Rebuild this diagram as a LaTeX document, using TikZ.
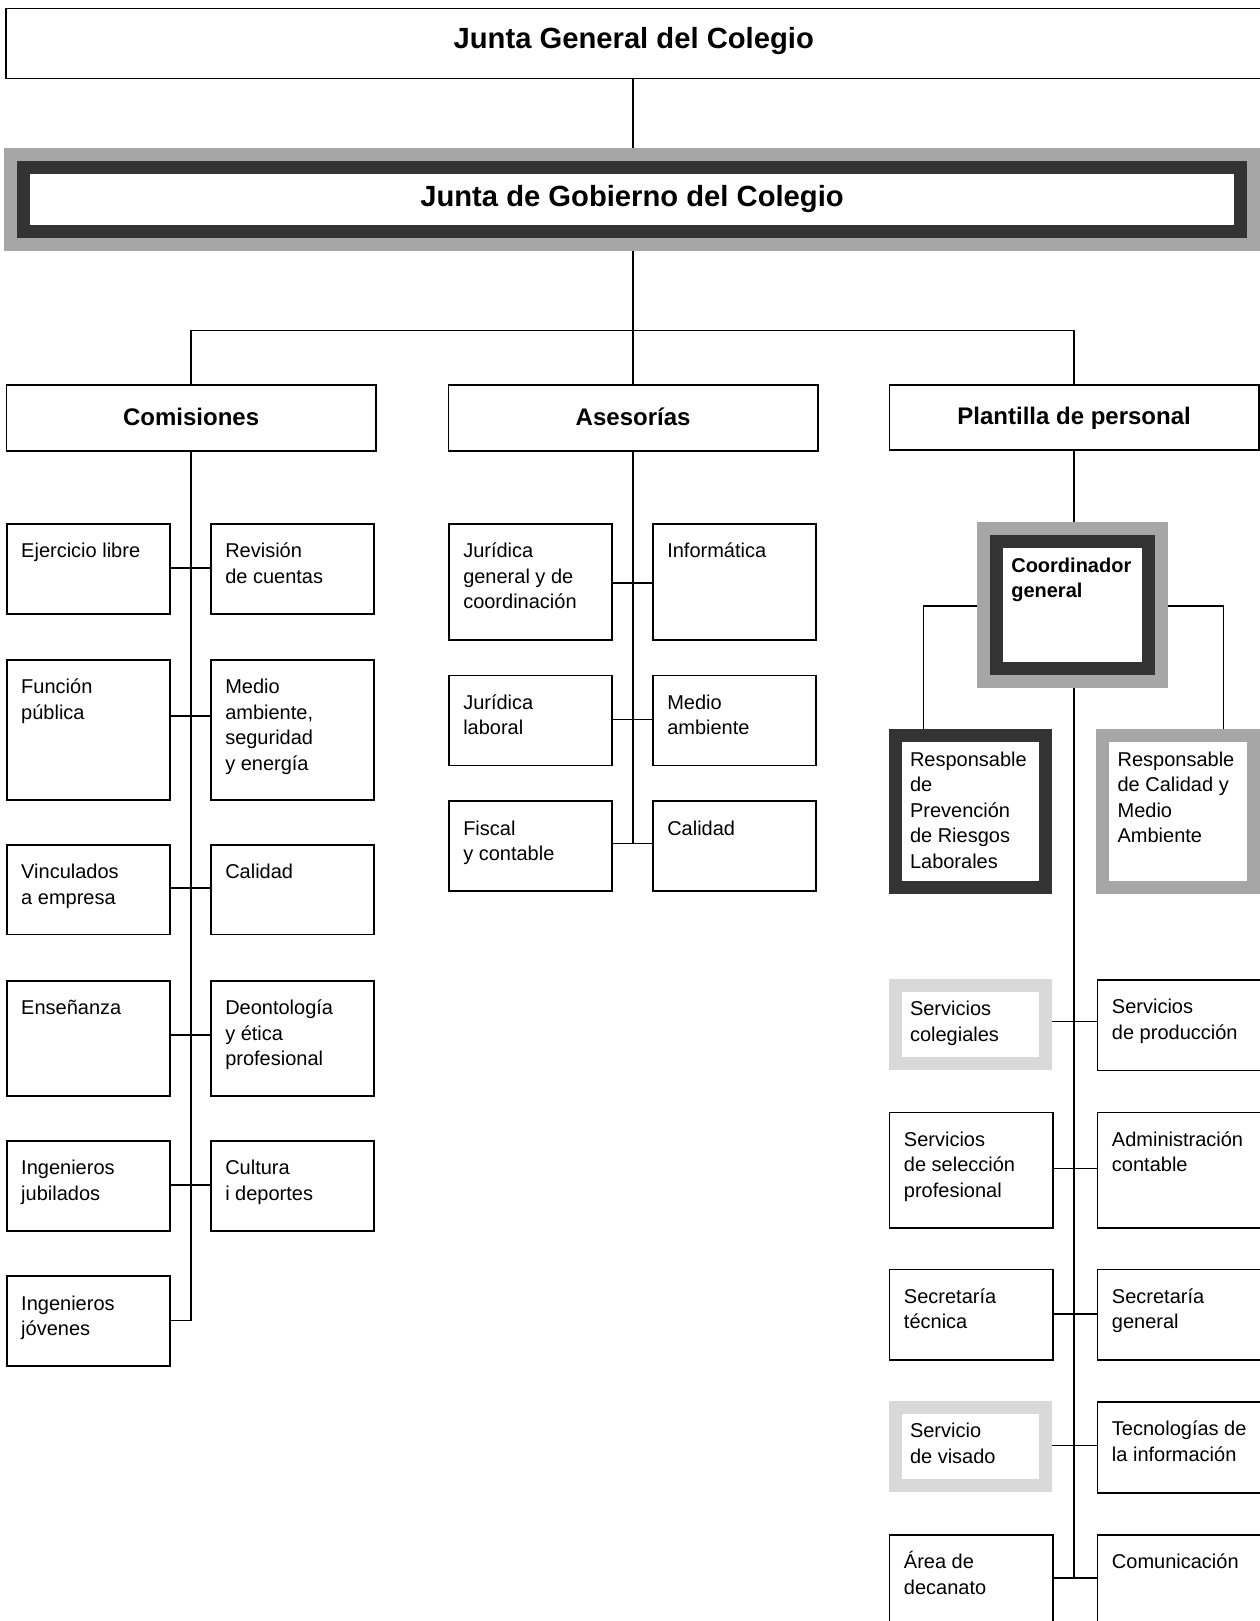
\documentclass[tikz,border=0pt]{standalone}
\usepackage{fontspec}
\setmainfont{Liberation Sans}
\definecolor{darkband}{HTML}{333333}
\definecolor{midband}{HTML}{A6A6A6}
\definecolor{lightband}{HTML}{D9D9D9}
\newcommand\cellbox[5]{\parbox[t][#2][t]{#1}{\raggedright\leftskip=#3\relax\rule{0pt}{#4}#5}}
\newcommand\boxcell[3]{\cellbox{#1}{#2}{7.25pt}{17pt}{#3}}
\newcommand\bandcell[3]{\cellbox{#1}{#2}{7.4pt}{15.1pt}{#3}}

\begin{document}
\begin{tikzpicture}
  [x=1pt,y=-1pt,
   every node/.style={anchor=north west,inner sep=0pt,fill=white,
     font=\fontsize{10}{12.75}\selectfont},
   plainbox/.style={draw,line width=.75pt},
   bandbox/.style={draw=#1,line width=6.5pt,outer sep=3.25pt},
   dblbox/.style={draw=darkband,line width=6.5pt,outer sep=9.75pt,
     preaction={draw=midband,line width=19.5pt}},
   hdrbox/.style={plainbox,text height=9pt,text depth=1.7pt,
     font=\bfseries\fontsize{12}{14}\selectfont},
   titlebox/.style={text height=11pt,
     font=\bfseries\fontsize{14.6}{17}\selectfont},
   conn/.style={line width=.65pt}]
\useasboundingbox (0,0) rectangle (629.5,810.5);

\node [plainbox,titlebox,text depth=6.7pt,minimum width=628pt,
       minimum height=35pt] (jg) at (2.5,4) {Junta General del Colegio};
\node [dblbox,titlebox,text depth=4.5pt,minimum width=608.5pt,
       minimum height=32pt] (gob) at (2,74) {Junta de Gobierno del Colegio};

\node [hdrbox,minimum width=184.65pt,minimum height=33pt]   (com)  at (2.85,192)   {Comisiones};
\node [hdrbox,minimum width=184.65pt,minimum height=33pt]   (ases) at (223.85,192) {Asesorías};
\node [hdrbox,minimum width=184.65pt,minimum height=32.5pt] (plan) at (444.35,192) {Plantilla de personal};

% comisiones
\node [plainbox] (ej)  at (3,261.5)   {\boxcell{81.5pt}{45pt}{Ejercicio libre}};
\node [plainbox] (rev) at (105,261.5) {\boxcell{81.5pt}{45pt}{Revisión\\de cuentas}};
\node [plainbox] (fun) at (3,329.5)   {\boxcell{81.5pt}{70pt}{Función\\pública}};
\node [plainbox] (med) at (105,329.5) {\boxcell{81.5pt}{70pt}{Medio\\ambiente,\\seguridad\\y energía}};
\node [plainbox] (vin) at (3,422)     {\boxcell{81.5pt}{44.75pt}{Vinculados\\a empresa}};
\node [plainbox] (cal) at (105,422)   {\boxcell{81.5pt}{44.75pt}{Calidad}};
\node [plainbox] (ens) at (3,490)     {\boxcell{81.5pt}{57.5pt}{Enseñanza}};
\node [plainbox] (deo) at (105,490)   {\boxcell{81.5pt}{57.5pt}{Deontología\\y ética\\profesional}};
\node [plainbox] (jub) at (3,570)     {\boxcell{81.5pt}{45pt}{Ingenieros\\jubilados}};
\node [plainbox] (cul) at (105,570)   {\boxcell{81.5pt}{45pt}{Cultura\\i deportes}};
\node [plainbox] (jov) at (3,637.7)   {\boxcell{81.5pt}{45pt}{Ingenieros\\jóvenes}};

% asesorias
\node [plainbox] (jur)  at (224,261.5)  {\boxcell{81.5pt}{58pt}{Jurídica\\general y de\\coordinación}};
\node [plainbox] (inf)  at (326,261.5)  {\boxcell{81.5pt}{58pt}{Informática}};
\node [plainbox] (lab)  at (224,337.25) {\boxcell{81.5pt}{45pt}{Jurídica\\laboral}};
\node [plainbox] (mam)  at (326,337.25) {\boxcell{81.5pt}{45pt}{Medio\\ambiente}};
\node [plainbox] (fis)  at (224,400.15) {\boxcell{81.5pt}{44.85pt}{Fiscal\\y contable}};
\node [plainbox] (cal2) at (326,400.15) {\boxcell{81.5pt}{44.85pt}{Calidad}};

% plantilla
\node [dblbox] (coord) at (488.5,261.15)
      {\bandcell{75.85pt}{63.5pt}{\bfseries Coordinador\\general}};
\node [bandbox=darkband] (resp1) at (444.35,364.7)
      {\bandcell{75.3pt}{75.95pt}{Responsable\\de\\Prevención\\de Riesgos\\Laborales}};
\node [bandbox=midband] (resp2) at (548.15,364.7)
      {\bandcell{75.5pt}{75.95pt}{Responsable\\de Calidad y\\Medio\\Ambiente}};
\node [bandbox=lightband] (col) at (444.35,489.5) {\bandcell{75.3pt}{38.85pt}{Servicios\\colegiales}};
\node [plainbox] (pro)  at (548.35,489.5)  {\boxcell{83pt}{45.35pt}{Servicios\\de producción}};
\node [plainbox] (sel)  at (444.35,555.75) {\boxcell{81.8pt}{57.95pt}{Servicios\\de selección\\profesional}};
\node [plainbox] (adm)  at (548.35,555.75) {\boxcell{83pt}{57.95pt}{Administración\\contable}};
\node [plainbox] (stec) at (444.35,634.35) {\boxcell{81.8pt}{45.3pt}{Secretaría\\técnica}};
\node [plainbox] (sgen) at (548.35,634.35) {\boxcell{83pt}{45.3pt}{Secretaría\\general}};
\node [bandbox=lightband] (vis) at (444.35,700.5) {\bandcell{75.3pt}{39pt}{Servicio\\de visado}};
\node [plainbox] (tic)  at (548.35,700.5)  {\boxcell{83pt}{45.5pt}{Tecnologías de\\la información}};
\node [plainbox] (dec)  at (444.35,767)    {\boxcell{81.8pt}{58pt}{Área de\\decanato}};
\node [plainbox] (comu) at (548.35,767)    {\boxcell{83pt}{58pt}{Comunicación}};

\coordinate (bus) at (0,165.35);
\coordinate (cl) at (461.65,303);
\coordinate (cr) at (611.65,303);
\foreach \k/\y in {k1/284,k2/358,k3/444,k4/517.5,k5/592.5,k6/660.25,
                   a1/291.5,a2/359.65,a3/421.65,
                   p1/510.9,p2/584.25,p3/657,p4/722.85,p5/789}
  \coordinate (\k) at (0,\y);

\draw [conn] (jg.south -| ases.north) -- (gob.north -| ases.north)
             (gob.south -| ases.north) -- (ases.north);
\draw [conn] (com.north) |- (bus -| ases.north) -| (plan.north);

\draw [conn] (com.south) -- (com.south |- k6) -- (jov.east |- k6);
\foreach \l/\r/\k in {ej/rev/k1,fun/med/k2,vin/cal/k3,ens/deo/k4,jub/cul/k5}
  \draw [conn] (\l.east |- \k) -- (\r.west |- \k);

\draw [conn] (ases.south) -- (ases.south |- a3);
\foreach \l/\r/\k in {jur/inf/a1,lab/mam/a2,fis/cal2/a3}
  \draw [conn] (\l.east |- \k) -- (\r.west |- \k);

\draw [conn] (plan.south) -- (plan.south |- coord.north);
\draw [conn] (coord.south -| plan.south) -- (plan.south |- p5);
\draw [conn] (coord.west |- cl) -| (resp1.north -| cl);
\draw [conn] (coord.east |- cr) -| (resp2.north -| cr);
\foreach \l/\r/\k in {col/pro/p1,sel/adm/p2,stec/sgen/p3,vis/tic/p4,dec/comu/p5}
  \draw [conn] (\l.east |- \k) -- (\r.west |- \k);
\end{tikzpicture}
\end{document}
